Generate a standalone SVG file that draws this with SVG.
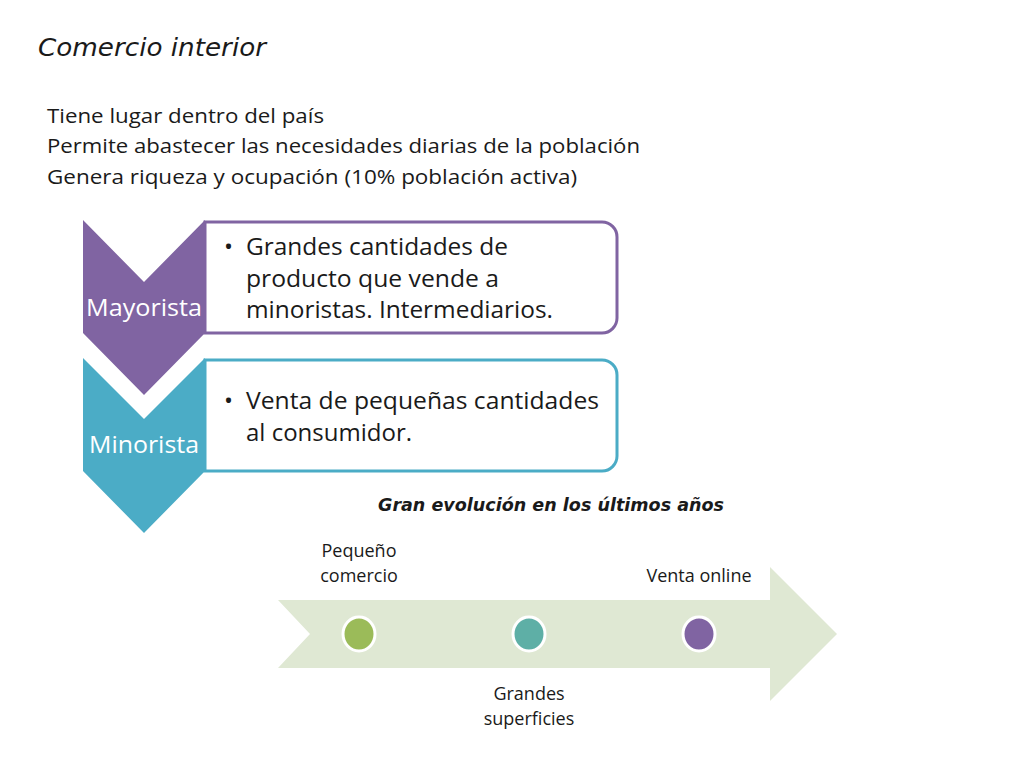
<svg xmlns="http://www.w3.org/2000/svg" width="1024" height="768" viewBox="0 0 1024 768">
<style>
.t{font-family:"Open Sans","Liberation Sans",sans-serif;fill:#1a1a1a}
.h{font-family:"DejaVu Sans","Liberation Sans",sans-serif;font-style:italic;fill:#1a1a1a}
.w{font-family:"Open Sans","Liberation Sans",sans-serif;fill:#fff;font-size:23px}
</style>
<rect width="1024" height="768" fill="#fff"/>
<text class="h" x="38" y="56" font-size="24" textLength="228" lengthAdjust="spacingAndGlyphs">Comercio interior</text>
<g class="t" font-size="20">
<text x="47" y="123" textLength="277" lengthAdjust="spacingAndGlyphs">Tiene lugar dentro del país</text>
<text x="47" y="153" textLength="593" lengthAdjust="spacingAndGlyphs">Permite abastecer las necesidades diarias de la población</text>
<text x="47" y="184" textLength="530" lengthAdjust="spacingAndGlyphs">Genera riqueza y ocupación (10% población activa)</text>
</g>
<g id="mayorista">
<path d="M205,222 H602 A15,15 0 0 1 617,237 V318 A15,15 0 0 1 602,333 H205 Z" fill="#fff" stroke="#8064a2" stroke-width="3"/>
<path d="M83,220 L144,282 L205,220 V333 L144,395 L83,333 Z" fill="#8064a2"/>
<text class="w" x="144" y="316" text-anchor="middle" textLength="116" lengthAdjust="spacingAndGlyphs">Mayorista</text>
<g class="t" font-size="24">
<text x="224" y="255">•</text>
<text x="246" y="255" textLength="262" lengthAdjust="spacingAndGlyphs">Grandes cantidades de</text>
<text x="246" y="287" textLength="253" lengthAdjust="spacingAndGlyphs">producto que vende a</text>
<text x="246" y="318" textLength="307" lengthAdjust="spacingAndGlyphs">minoristas. Intermediarios.</text>
</g>
</g>
<g id="minorista">
<path d="M205,360 H602 A15,15 0 0 1 617,375 V456 A15,15 0 0 1 602,471 H205 Z" fill="#fff" stroke="#4bacc6" stroke-width="3"/>
<path d="M83,358 L144,419 L205,358 V471 L144,533 L83,471 Z" fill="#4bacc6"/>
<text class="w" x="144" y="453" text-anchor="middle" textLength="110" lengthAdjust="spacingAndGlyphs">Minorista</text>
<g class="t" font-size="24">
<text x="224" y="409">•</text>
<text x="246" y="409" textLength="353" lengthAdjust="spacingAndGlyphs">Venta de pequeñas cantidades</text>
<text x="246" y="441" textLength="166" lengthAdjust="spacingAndGlyphs">al consumidor.</text>
</g>
</g>
<text class="h" x="378" y="511" font-size="17" font-weight="bold" textLength="346" lengthAdjust="spacingAndGlyphs">Gran evolución en los últimos años</text>
<g id="timeline">
<path d="M278,600 H770 V567 L837,634 L770,701 V668 H278 L310,634 Z" fill="#dfe8d3"/>
<ellipse cx="359" cy="634" rx="16" ry="17" fill="#9bbb59" stroke="#fff" stroke-width="3"/>
<ellipse cx="529" cy="634" rx="16" ry="17" fill="#5eafa6" stroke="#fff" stroke-width="3"/>
<ellipse cx="699" cy="634" rx="16" ry="17" fill="#8064a2" stroke="#fff" stroke-width="3"/>
<g class="t" font-size="18" text-anchor="middle">
<text x="359" y="557">Pequeño</text>
<text x="359" y="582">comercio</text>
<text x="699" y="582">Venta online</text>
<text x="529" y="700">Grandes</text>
<text x="529" y="725">superficies</text>
</g>
</g>
</svg>
